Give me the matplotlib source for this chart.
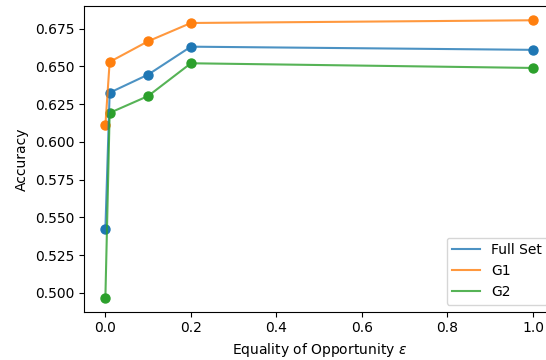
import numpy as np
import matplotlib.pyplot as plt

# fairness constraint levels and accuracies per group
eps = [0.0, 0.01, 0.1, 0.2, 1.0]
acc_full = [0.542, 0.6326, 0.6446, 0.6631, 0.661]
acc_g1 = [0.611, 0.653, 0.6667, 0.6788, 0.6806]
acc_g2 = [0.4967, 0.6192, 0.6304, 0.6521, 0.649]

fig, ax = plt.subplots(figsize=(5.46, 3.6), dpi=100)
ax.plot(eps, acc_full, label='Full Set', alpha=0.8)
ax.plot(eps, acc_g1, label='G1', alpha=0.8)
ax.plot(eps, acc_g2, label='G2', alpha=0.8)

# markers drawn separately in matching colours
ax.scatter(eps, acc_full, s=42, color='C0')
ax.scatter(eps, acc_g1, s=42, color='C1')
ax.scatter(eps, acc_g2, s=42, color='C2')

ax.set_xlabel(r'Equality of Opportunity $\epsilon$')
ax.set_ylabel('Accuracy')
ax.legend(loc='lower right')

# axes run slightly past the right edge of the canvas
ax.set_position([84 / 546, 1 - 311.6 / 360, (554.4 - 84) / 546, (311.6 - 6.4) / 360])
plt.savefig('out.png')
